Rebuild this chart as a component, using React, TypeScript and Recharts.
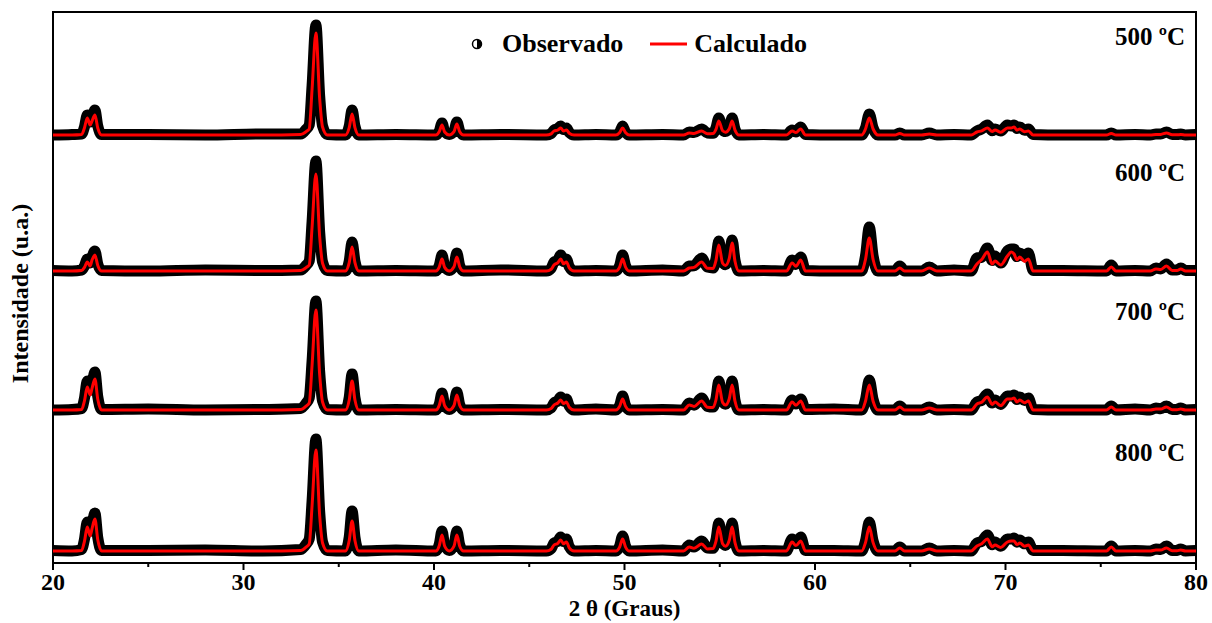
import React from 'react';
import { ComposedChart, Line, XAxis, YAxis, ReferenceArea, ReferenceDot, Legend } from 'recharts';

const FONT = "'Liberation Serif', 'Times New Roman', serif";

// 2θ sampling positions (degrees)
const twoTheta = [
  20.0, 21.0, 21.5, 21.65, 21.8, 21.95, 22.05, 22.2, 22.35, 22.55,
  25.0, 28.0, 31.0,
  33.0, 33.3, 33.45, 33.6, 33.8, 34.0, 34.15, 34.4,
  35.35, 35.55, 35.7, 35.85, 36.05,
  38.0,
  40.1, 40.28, 40.42, 40.56, 40.8, 41.05, 41.2, 41.35, 41.55,
  43.5,
  45.9, 46.15, 46.3, 46.5, 46.65, 46.8, 46.95, 47.1, 47.35,
  48.5,
  49.55, 49.75, 49.9, 50.05, 50.25,
  52.0,
  53.1, 53.4, 53.65, 54.05, 54.35, 54.65, 54.8, 54.95, 55.15, 55.3, 55.5, 55.65, 55.8, 56.0,
  57.3,
  58.5, 58.8, 59.0, 59.25, 59.5,
  61.0,
  62.45, 62.65, 62.85, 63.05, 63.3,
  64.2, 64.45, 64.7,
  65.6, 66.0, 66.4,
  67.3,
  68.2, 68.5, 68.75, 69.05, 69.3, 69.45, 69.75, 70.1, 70.3, 70.45, 70.6, 70.75, 71.0, 71.2, 71.45,
  73.0,
  75.3, 75.55, 75.8,
  76.8,
  77.6, 77.9, 78.15, 78.45, 78.75, 79.0, 79.2, 79.45, 80.0,
];

// Intensities (a.u.) — observed and calculated, per calcination temperature
const obs500 = [
  0, 0.5, 1, 8, 20, 13, 17.5, 25, 9, 0.5,
  0.5, 0, 1,
  1, 6, 10, 49.5, 110, 38.5, 9, 0.5,
  0, 9, 25, 9, 0,
  0.5,
  0, 4, 12, 3.5, 0.5, 4, 13, 4, 0,
  0.5,
  0, 1.5, 5, 6.5, 9, 5.5, 7, 2.5, 0,
  0.5,
  0, 3, 9, 3, 0,
  0.5,
  0, 3, 2.5, 6, 2, 1.7, 7, 17, 5, 3.4, 7.5, 17, 6, 0,
  0.5,
  0, 5, 3, 8, 0.5,
  0,
  0, 7, 21, 7, 0,
  0, 2, 0,
  0, 2, 0,
  0.5,
  0, 4, 6, 10, 4.2, 6, 4, 10, 9, 10, 6.4, 8, 4.8, 6, 0.5,
  0,
  0, 2, 0,
  0.5,
  0, 1, 1, 3, 0.5, 0.5, 1, 0, 0.5,
];
const calc500 = [
  0, 0, 0.5, 7, 17, 10, 14, 20, 7, 0,
  0, 0, 0,
  0.5, 3.6, 6, 46, 102, 36, 8, 0,
  0, 7.4, 21, 7.4, 0,
  0,
  0, 3.5, 10, 3, 0, 3.3, 11, 3.3, 0,
  0,
  0, 1.2, 4, 5, 7, 4, 5, 1.8, 0,
  0,
  0, 2.5, 7, 2.5, 0,
  0,
  0, 2, 1.6, 4, 1.2, 1.4, 5.6, 14, 4.2, 2.8, 6.3, 14, 4.9, 0,
  0,
  0, 4, 2.4, 6, 0,
  0,
  0, 6, 17, 6, 0,
  0, 1.5, 0,
  0, 1, 0,
  0,
  0, 3, 4.2, 7, 3.5, 5, 2.8, 7, 7, 8, 4.8, 6, 3.2, 4, 0,
  0,
  0, 1.5, 0,
  0,
  0, 0.5, 0.6, 2, 0.3, 0.2, 0.5, 0, 0,
];
const obs600 = [
  0.5, 0, 1, 5, 12, 8, 14, 20, 7, 0.5,
  0, 1, 0.5,
  1, 6, 10, 49.5, 110, 38.5, 9, 0.5,
  0, 10, 29, 10, 0,
  0.5,
  0, 5.6, 16, 4.8, 0.5, 5.4, 18, 5.4, 0,
  1,
  0, 2.7, 9, 11, 16, 9.6, 12, 4.2, 0,
  0.5,
  0, 5.6, 16, 5.6, 0,
  1,
  0, 5, 5.2, 13, 3.9, 3, 12, 30, 9, 6.2, 14, 31, 11, 0,
  0.5,
  0, 11, 6.6, 14, 0.5,
  0,
  0, 15, 44, 15, 0,
  0, 5, 0,
  0, 4, 0,
  1,
  0, 13, 13.8, 23, 10.5, 15, 8, 20, 22, 22, 14.4, 18, 14.4, 18, 0.5,
  0.5,
  0, 6, 0,
  0.5,
  0, 3, 2.1, 7, 1, 1, 3, 0.5, 0.5,
];
const calc600 = [
  0, 0, 0.5, 3.6, 9, 5, 11, 16, 5.6, 0,
  0, 0, 0,
  0.5, 3.6, 6, 44, 97, 34, 7.8, 0,
  0, 8.4, 24, 8.4, 0,
  0,
  0, 4.2, 12, 3.6, 0, 4.2, 14, 4.2, 0,
  0,
  0, 1.8, 6, 8.4, 12, 7.2, 9, 3.2, 0,
  0,
  0, 4.2, 12, 4.2, 0,
  0,
  0, 3, 3.6, 9, 2.7, 2.6, 10.4, 26, 7.8, 5.6, 12.6, 28, 9.8, 0,
  0,
  0, 8, 4.8, 11, 0,
  0,
  0, 11.5, 33, 11.5, 0,
  0, 3, 0,
  0, 3, 0,
  0,
  0, 7, 11.4, 19, 7, 10, 6, 15, 19, 17, 11.2, 14, 9.6, 12, 0,
  0,
  0, 4, 0,
  0,
  0, 2, 1.5, 5, 0.6, 0.6, 2, 0, 0,
];
const obs700 = [
  0, 0.5, 1.5, 11.6, 29, 20, 26.6, 38, 13.3, 0.5,
  1, 0, 0.5,
  1.5, 7.2, 12, 49, 109, 38, 9, 0.5,
  0, 12.6, 36, 12.6, 0,
  0.5,
  0, 6, 17, 5.1, 0.5, 5.4, 18, 5.4, 0,
  0.5,
  0, 2.1, 7, 9.1, 13, 8.8, 11, 3.9, 0,
  1,
  0, 4.9, 14, 4.9, 0,
  0.5,
  0, 7, 4.8, 12, 3.6, 2.9, 11.6, 29, 8.7, 5.8, 13, 29, 10, 0,
  0.5,
  0, 10, 6, 11, 0.5,
  1,
  0, 10.5, 30, 10.5, 0,
  0, 4, 0,
  0, 3, 0,
  0.5,
  0, 8, 9.6, 16, 7, 10, 5.6, 14, 14, 15, 10.4, 13, 9.6, 12, 0.5,
  0,
  0, 4, 0,
  1,
  0, 2, 1.2, 4, 0.5, 0.6, 2, 0, 0.5,
];
const calc700 = [
  0, 0, 0.5, 9, 23, 15, 21.7, 31, 10.8, 0,
  0, 0, 0,
  0.5, 4.2, 7, 45, 100, 35, 8, 0,
  0, 10, 29, 10, 0,
  0,
  0, 4.9, 14, 4.2, 0, 4.5, 15, 4.5, 0,
  0,
  0, 1.5, 5, 7, 10, 6.4, 8, 2.8, 0,
  0,
  0, 3.9, 11, 3.9, 0,
  0,
  0, 5, 3.6, 9, 2.7, 2.5, 10, 25, 7.5, 5, 11.3, 25, 8.8, 0,
  0,
  0, 8, 4.8, 9, 0,
  0,
  0, 8.8, 25, 8.8, 0,
  0, 3, 0,
  0, 2, 0,
  0,
  0, 6, 7.8, 13, 5.6, 8, 4.4, 11, 11, 12, 8, 10, 7.2, 9, 0,
  0,
  0, 3, 0,
  0,
  0, 1, 0.9, 3, 0.3, 0.3, 1, 0, 0,
];
const obs800 = [
  0.5, 0, 1.5, 11.6, 29, 20, 26.6, 38, 13.3, 0.5,
  0.5, 1, 0,
  1.5, 7.2, 12, 50, 112, 39, 9, 0.5,
  0, 14, 40, 14, 0,
  1,
  0, 7, 20, 6, 0.5, 6, 20, 6, 0,
  0.5,
  0, 2.4, 8, 9.8, 14, 9.6, 12, 4.2, 0,
  0.5,
  0, 5.3, 15, 5.3, 0,
  1,
  0, 6, 4, 10, 3, 2.8, 11.2, 28, 8.4, 5.6, 12.6, 28, 9.8, 0,
  0.5,
  0, 12, 7.2, 14, 0.5,
  0.5,
  0, 10, 29, 10, 0,
  0, 4, 0,
  0, 3, 0,
  0.5,
  0, 8, 9.6, 16, 6.3, 9, 4.8, 12, 12, 13, 8.8, 11, 7.2, 9, 0.5,
  0.5,
  0, 5, 0,
  0.5,
  0, 2, 1.5, 5, 0.5, 0.6, 2, 0, 0.5,
];
const calc800 = [
  0, 0, 0.5, 9.6, 24, 15, 22.4, 32, 11.2, 0,
  0, 0, 0,
  0.5, 4.2, 7, 45.5, 101, 35, 8, 0,
  0, 10.5, 30, 10.5, 0,
  0,
  0, 5.6, 16, 4.8, 0, 4.8, 16, 4.8, 0,
  0,
  0, 1.8, 6, 7.7, 11, 7.2, 9, 3.2, 0,
  0,
  0, 4.2, 12, 4.2, 0,
  0,
  0, 4, 2.8, 7, 2.1, 2.4, 9.6, 24, 7.2, 4.8, 10.8, 24, 8.4, 0,
  0,
  0, 9, 5.4, 10, 0,
  0,
  0, 8.4, 24, 8.4, 0,
  0, 3, 0,
  0, 2, 0,
  0,
  0, 5, 7.2, 12, 4.2, 6, 3.6, 9, 10, 10, 6.4, 8, 4.8, 6, 0,
  0,
  0, 4, 0,
  0,
  0, 1, 0.9, 3, 0.3, 0.3, 1, 0, 0,
];

const temperatures = ['500 ºC', '600 ºC', '700 ºC', '800 ºC'];
const stackOffsets = [428, 292, 153, 12];
const observedSeries = [obs500, obs600, obs700, obs800];
const calculatedSeries = [calc500, calc600, calc700, calc800];
const xTicks = [20, 25, 30, 35, 40, 45, 50, 55, 60, 65, 70, 75, 80];
const Y_MAX = 551;

const data = twoTheta.map((x, i) => {
  const row: Record<string, number> = { x };
  observedSeries.forEach((s, k) => {
    row['o' + k] = s[i] + stackOffsets[k];
  });
  calculatedSeries.forEach((s, k) => {
    row['c' + k] = s[i] + stackOffsets[k];
  });
  return row;
});

const XTick = (props: any) => {
  const { x, y, payload } = props;
  const major = payload.value % 10 === 0;
  return (
    <g>
      <line x1={x} x2={x} y1={y} y2={y + (major ? 7 : 4)} stroke="#000" strokeWidth={2} />
      {major && (
        <text x={x} y={y + 27} textAnchor="middle" fontFamily={FONT} fontWeight="bold" fontSize={24} fill="#000">
          {payload.value}
        </text>
      )}
    </g>
  );
};

const LegendContent = () => (
  <div style={{ display: 'flex', alignItems: 'center', fontFamily: FONT, fontWeight: 'bold', fontSize: 26, lineHeight: '29px', color: '#000', whiteSpace: 'nowrap' }}>
    <svg width={12} height={12} style={{ display: 'block' }}>
      <circle cx={6} cy={6} r={4.5} fill="#fff" stroke="#000" strokeWidth={1.5} />
      <path d="M6 1.5 A4.5 4.5 0 0 1 6 10.5 Z" fill="#000" />
    </svg>
    <span style={{ marginLeft: 19 }}>Observado</span>
    <svg width={37} height={6} style={{ display: 'block', marginLeft: 27 }}>
      <line x1={0} x2={37} y1={3} y2={3} stroke="#ff0000" strokeWidth={3} />
    </svg>
    <span style={{ marginLeft: 7 }}>Calculado</span>
  </div>
);

export default function App() {
  return (
    <div style={{ position: 'absolute', left: 0, top: 0, width: 1212, height: 623, background: '#fff' }}>
      <ComposedChart width={1212} height={623} data={data} margin={{ top: 12, right: 16, bottom: 0, left: 13 }}>
        <XAxis
          dataKey="x"
          type="number"
          domain={[20, 80]}
          ticks={xTicks}
          allowDataOverflow
          height={60}
          tickSize={0}
          tickMargin={0}
          tickLine={false}
          axisLine={{ stroke: '#000', strokeWidth: 2 }}
          tick={<XTick />}
          interval={0}
          label={(p: any) => {
            const vb = p.viewBox || { x: 53, y: 563, width: 1143, height: 60 };
            return (
              <text x={vb.x + vb.width / 2} y={vb.y + 53} textAnchor="middle" fontFamily={FONT} fontWeight="bold" fontSize={23} fill="#000">
                2 θ (Graus)
              </text>
            );
          }}
        />
        <YAxis
          type="number"
          domain={[0, Y_MAX]}
          allowDataOverflow
          width={40}
          tick={false}
          tickLine={false}
          axisLine={false}
          label={(p: any) => {
            const vb = p.viewBox || { x: 13, y: 12, width: 40, height: 551 };
            const cx = 28;
            const cy = vb.y + vb.height / 2 + 6;
            return (
              <text x={cx} y={cy} transform={`rotate(-90 ${cx} ${cy})`} textAnchor="middle" fontFamily={FONT} fontWeight="bold" fontSize={24} fill="#000">
                Intensidade (u.a.)
              </text>
            );
          }}
        />
        <Legend
          verticalAlign="middle"
          align="center"
          layout="horizontal"
          content={<LegendContent />}
          wrapperStyle={{ position: 'absolute', left: 471, top: 29, width: 'auto' }}
        />
        {observedSeries.map((_, k) => (
          <Line
            key={'o' + k}
            dataKey={'o' + k}
            type="monotone"
            stroke="#000"
            strokeWidth={11}
            strokeLinejoin="round"
            strokeLinecap="round"
            dot={false}
            activeDot={false}
            isAnimationActive={false}
            legendType="none"
          />
        ))}
        {calculatedSeries.map((_, k) => (
          <Line
            key={'c' + k}
            dataKey={'c' + k}
            type="monotone"
            stroke="#ff0000"
            strokeWidth={3}
            dot={false}
            activeDot={false}
            isAnimationActive={false}
            legendType="none"
          />
        ))}
        {temperatures.map((t, k) => (
          <ReferenceDot
            key={t}
            x={79.42}
            y={stackOffsets[k] + 90}
            r={0}
            fill="none"
            stroke="none"
            label={(p: any) => {
              const vb = p.viewBox || { x: 0, y: 0 };
              return (
                <text x={vb.x} y={vb.y} textAnchor="end" fontFamily={FONT} fontWeight="bold" fontSize={25} fill="#000">
                  {t}
                </text>
              );
            }}
          />
        ))}
        <ReferenceArea x1={20} x2={80} y1={0} y2={Y_MAX} fill="none" fillOpacity={0} stroke="#000" strokeWidth={2} />
      </ComposedChart>
    </div>
  );
}
